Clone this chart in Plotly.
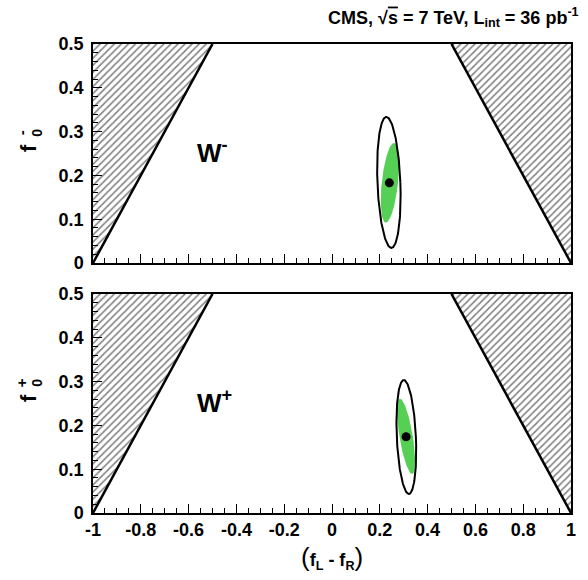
import numpy as np
import plotly.graph_objects as go

# ---------------- data ----------------
x_tick_vals = [-1, -0.8, -0.6, -0.4, -0.2, 0, 0.2, 0.4, 0.6, 0.8, 1]
x_tick_text = ["-1", "-0.8", "-0.6", "-0.4", "-0.2", "0", "0.2", "0.4", "0.6", "0.8", "1"]
y_tick_vals = [0, 0.1, 0.2, 0.3, 0.4, 0.5]
y_tick_text = ["0", "0.1", "0.2", "0.3", "0.4", "0.5"]

# physical boundary f0 + |fL - fR| = 1
left_excl_x = [-1, -0.5, -1]
left_excl_y = [0, 0.5, 0.5]
right_excl_x = [1, 0.5, 1]
right_excl_y = [0, 0.5, 0.5]

panel_names = ["W<sup>-</sup>", "W<sup>+</sup>"]
ytitle_sup = ["-", "+"]
best_x = [0.240, 0.310]
best_y = [0.183, 0.174]

# inner (green) contour: centre, half-widths, shear
in_cx = [0.242, 0.310]
in_cy = [0.183, 0.175]
in_sx = [0.034, 0.028]
in_sy = [0.091, 0.086]
in_sh = [0.017, -0.025]

# outer (black) contour
out_cx = [0.238, 0.311]
out_cy = [0.184, 0.1735]
out_sx = [0.048, 0.040]
out_sy = [0.1495, 0.130]
out_sh = [-0.0104, -0.0104]

GREEN = "#55D055"
FONT = "Liberation Sans, Arial, Helvetica, sans-serif"


def ellipse(cx, cy, sx, sy, sh, n=200):
    t = np.linspace(0, 2 * np.pi, n)
    return cx + sx * np.cos(t) + sh * np.sin(t), cy + sy * np.sin(t)


fig = go.Figure()
axes = [("x", "y"), ("x2", "y2")]
for i, (xa, ya) in enumerate(axes):
    for ex, ey in [(left_excl_x, left_excl_y), (right_excl_x, right_excl_y)]:
        fig.add_trace(go.Scatter(
            x=ex, y=ey, xaxis=xa, yaxis=ya, mode="lines", fill="toself",
            line=dict(width=0, color="black"), fillcolor="white",
            fillpattern=dict(shape="/", fgcolor="black", bgcolor="white", size=5, solidity=0.3),
            hoverinfo="skip", showlegend=False))
    for ex, ey in [(left_excl_x[:2], left_excl_y[:2]), (right_excl_x[:2], right_excl_y[:2])]:
        fig.add_trace(go.Scatter(x=ex, y=ey, xaxis=xa, yaxis=ya, mode="lines",
                                 line=dict(color="black", width=2.5), showlegend=False))
    gx, gy = ellipse(in_cx[i], in_cy[i], in_sx[i], in_sy[i], in_sh[i])
    fig.add_trace(go.Scatter(x=gx, y=gy, xaxis=xa, yaxis=ya, mode="lines", fill="toself",
                             fillcolor=GREEN, line=dict(width=0, color=GREEN), showlegend=False))
    ox, oy = ellipse(out_cx[i], out_cy[i], out_sx[i], out_sy[i], out_sh[i])
    fig.add_trace(go.Scatter(x=ox, y=oy, xaxis=xa, yaxis=ya, mode="lines",
                             line=dict(width=2, color="black"), showlegend=False))
    fig.add_trace(go.Scatter(x=[best_x[i]], y=[best_y[i]], xaxis=xa, yaxis=ya, mode="markers",
                             marker=dict(size=9, color="black"), showlegend=False))

L, R, T, B = 93, 15, 44, 67
W, H = 588, 580
pw, ph = W - L - R, H - T - B


def py(p):
    return (H - B - p) / ph


def px(p):
    return (p - L) / pw


common_x = dict(range=[-1, 1], tickvals=x_tick_vals, ticktext=x_tick_text, ticks="inside",
                ticklen=9, tickwidth=1, tickcolor="black", showline=True, mirror=True,
                linecolor="black", linewidth=1.5, showgrid=False, zeroline=False,
                minor=dict(dtick=0.05, ticks="inside", ticklen=5, tickcolor="black", showgrid=False),
                tickfont=dict(family=FONT, size=18, color="black", weight="bold"))
common_y = dict(range=[0, 0.5], tickvals=y_tick_vals, ticktext=y_tick_text, ticks="inside",
                ticklen=9, tickwidth=1, tickcolor="black", showline=True, mirror=True,
                linecolor="black", linewidth=1.5, showgrid=False, zeroline=False,
                minor=dict(dtick=0.02, ticks="inside", ticklen=5, tickcolor="black", showgrid=False),
                tickfont=dict(family=FONT, size=18, color="black", weight="bold"),
                ticklabelstandoff=4)

fig.update_layout(
    width=W, height=H, margin=dict(l=L, r=R, t=T, b=B),
    paper_bgcolor="white", plot_bgcolor="white", showlegend=False,
    xaxis=dict(common_x, anchor="y", domain=[0, 1], showticklabels=False),
    yaxis=dict(common_y, anchor="x", domain=[py(263), 1]),
    xaxis2=dict(common_x, anchor="y2", domain=[0, 1]),
    yaxis2=dict(common_y, anchor="x2", domain=[0, py(294)]),
)

ann = []
for i, ya in enumerate(["y", "y2"]):
    ann.append(dict(x=-0.575, y=0.255, xref="x" if i == 0 else "x2", yref=ya, xanchor="left",
                    yanchor="middle", showarrow=False, text=panel_names[i],
                    font=dict(family=FONT, size=26, color="black", weight="bold")))
    ann.append(dict(x=px(13), y=0.262, xref="paper", yref=ya, textangle=-90, showarrow=False,
                    text="f", font=dict(family=FONT, size=22, color="black", weight="bold")))
    ann.append(dict(x=px(27), y=0.298, xref="paper", yref=ya, textangle=-90, showarrow=False,
                    text="0", font=dict(family=FONT, size=14, color="black", weight="bold")))
    ann.append(dict(x=px(11), y=0.298, xref="paper", yref=ya, textangle=-90, showarrow=False,
                    text=ytitle_sup[i], font=dict(family=FONT, size=15, color="black", weight="bold")))

ann.append(dict(x=px(583), y=py(18), xref="paper", yref="paper", xanchor="right", yanchor="middle",
                showarrow=False,
                text="CMS, √<span style='text-decoration:overline'>s</span> = 7 TeV, L<sub>int</sub> = 36 pb<sup>-1</sup>",
                font=dict(family=FONT, size=18, color="black", weight="bold")))
ann.append(dict(x=0.5, y=py(557), xref="paper", yref="paper", xanchor="center", yanchor="middle",
                showarrow=False,
                text="<span style='font-size:26px;font-weight:normal'>(</span>f<sub>L</sub> - f<sub>R</sub><span style='font-size:26px;font-weight:normal'>)</span>",
                font=dict(family=FONT, size=18, color="black", weight="bold")))
fig.update_layout(annotations=ann)

fig.write_html("out.html", config={"displayModeBar": False},
               post_script="document.body.style.margin='0px';document.body.style.overflow='hidden';")
